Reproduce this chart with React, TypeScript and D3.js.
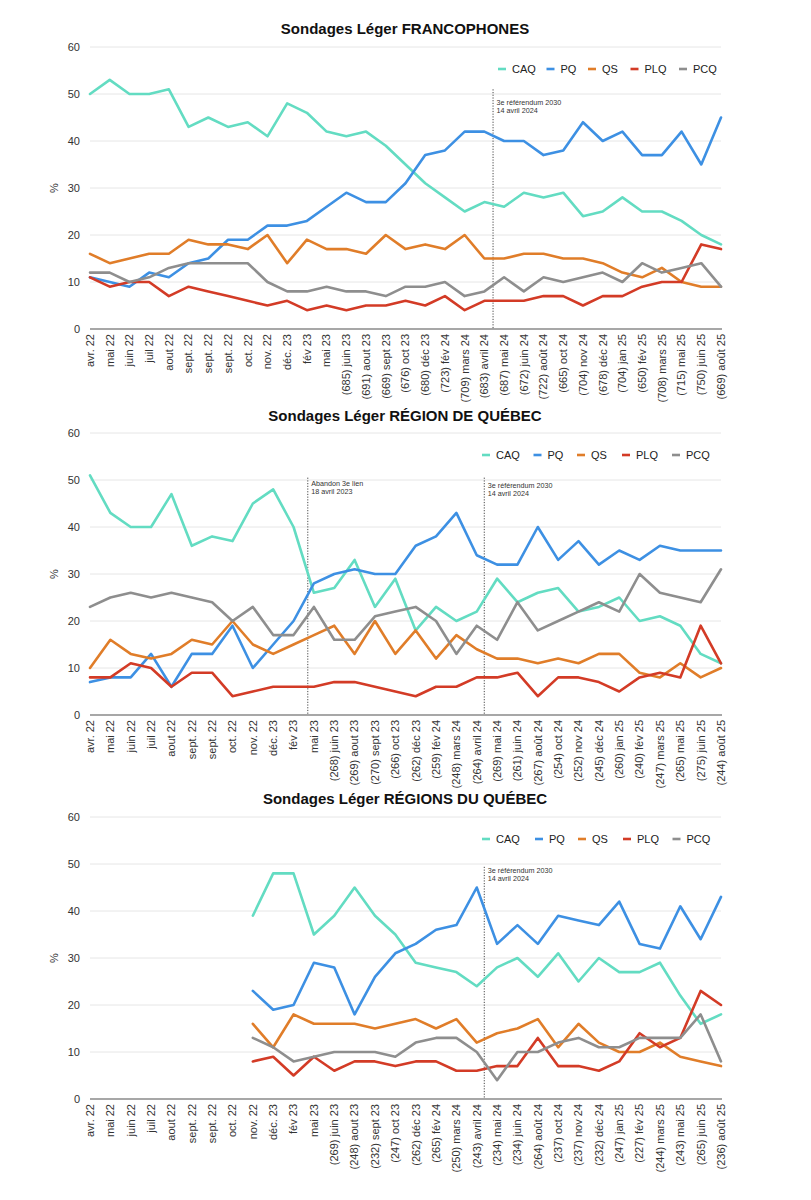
import * as d3 from 'd3';

// ---- categories (x axis) ----
const catFranco = [
  'avr. 22', 'mai 22', 'juin 22', 'juil 22', 'aout 22', 'sept. 22', 'sept. 22', 'sept. 22', 'oct. 22',
  'nov. 22', 'déc. 23', 'fév 23', 'mai 23', '(685) juin 23', '(691) aout 23', '(669) sept 23',
  '(676) oct 23', '(680) déc 23', '(723) fév 24', '(709) mars 24', '(683) avril 24', '(687) mai 24',
  '(672) juin 24', '(722) août 24', '(665) oct 24', '(704) nov 24', '(678) déc 24', '(704) jan 25',
  '(650) fév 25', '(708) mars 25', '(715) mai 25', '(750) juin 25', '(669) août 25',
];
const catQuebec = [
  'avr. 22', 'mai 22', 'juin 22', 'juil 22', 'aout 22', 'sept. 22', 'sept. 22', 'oct. 22', 'nov. 22',
  'déc. 23', 'fév 23', 'mai 23', '(268) juin 23', '(269) aout 23', '(270) sept 23', '(266) oct 23',
  '(262) déc 23', '(259) fév 24', '(248) mars 24', '(264) avril 24', '(269) mai 24', '(261) juin 24',
  '(267) août 24', '(254) oct 24', '(252) nov 24', '(245) déc 24', '(260) jan 25', '(240) fév 25',
  '(247) mars 25', '(265) mai 25', '(275) juin 25', '(244) août 25',
];
const catRegions = [
  'avr. 22', 'mai 22', 'juin 22', 'juil 22', 'aout 22', 'sept. 22', 'sept. 22', 'oct. 22', 'nov. 22',
  'déc. 23', 'fév 23', 'mai 23', '(269) juin 23', '(248) aout 23', '(232) sept 23', '(247) oct 23',
  '(262) déc 23', '(265) fév 24', '(250) mars 24', '(243) avril 24', '(234) mai 24', '(234) juin 24',
  '(264) août 24', '(237) oct 24', '(237) nov 24', '(232) déc 24', '(247) jan 25', '(227) fév 25',
  '(244) mars 25', '(243) mai 25', '(265) juin 25', '(236) août 25',
];

// ---- series: francophones ----
const caqFranco = [50, 53, 50, 50, 51, 43, 45, 43, 44, 41, 48, 46, 42, 41, 42, 39, 35, 31, 28, 25, 27, 26, 29, 28, 29, 24, 25, 28, 25, 25, 23, 20, 18];
const pqFranco = [11, 10, 9, 12, 11, 14, 15, 19, 19, 22, 22, 23, 26, 29, 27, 27, 31, 37, 38, 42, 42, 40, 40, 37, 38, 44, 40, 42, 37, 37, 42, 35, 45];
const qsFranco = [16, 14, 15, 16, 16, 19, 18, 18, 17, 20, 14, 19, 17, 17, 16, 20, 17, 18, 17, 20, 15, 15, 16, 16, 15, 15, 14, 12, 11, 13, 10, 9, 9];
const plqFranco = [11, 9, 10, 10, 7, 9, 8, 7, 6, 5, 6, 4, 5, 4, 5, 5, 6, 5, 7, 4, 6, 6, 6, 7, 7, 5, 7, 7, 9, 10, 10, 18, 17];
const pcqFranco = [12, 12, 10, 11, 13, 14, 14, 14, 14, 10, 8, 8, 9, 8, 8, 7, 9, 9, 10, 7, 8, 11, 8, 11, 10, 11, 12, 10, 14, 12, 13, 14, 9];

// ---- series: région de Québec ----
const caqQuebec = [51, 43, 40, 40, 47, 36, 38, 37, 45, 48, 40, 26, 27, 33, 23, 29, 18, 23, 20, 22, 29, 24, 26, 27, 22, 23, 25, 20, 21, 19, 13, 11];
const pqQuebec = [7, 8, 8, 13, 6, 13, 13, 19, 10, 15, 20, 28, 30, 31, 30, 30, 36, 38, 43, 34, 32, 32, 40, 33, 37, 32, 35, 33, 36, 35, 35, 35];
const qsQuebec = [10, 16, 13, 12, 13, 16, 15, 20, 15, 13, 15, 17, 19, 13, 20, 13, 18, 12, 17, 14, 12, 12, 11, 12, 11, 13, 13, 9, 8, 11, 8, 10];
const plqQuebec = [8, 8, 11, 10, 6, 9, 9, 4, 5, 6, 6, 6, 7, 7, 6, 5, 4, 6, 6, 8, 8, 9, 4, 8, 8, 7, 5, 8, 9, 8, 19, 11];
const pcqQuebec = [23, 25, 26, 25, 26, 25, 24, 20, 23, 17, 17, 23, 16, 16, 21, 22, 23, 20, 13, 19, 16, 24, 18, 20, 22, 24, 22, 30, 26, 25, 24, 31];

// ---- series: régions du Québec (no data before nov. 22) ----
const n = null;
const caqRegions = [n, n, n, n, n, n, n, n, 39, 48, 48, 35, 39, 45, 39, 35, 29, 28, 27, 24, 28, 30, 26, 31, 25, 30, 27, 27, 29, 22, 16, 18];
const pqRegions = [n, n, n, n, n, n, n, n, 23, 19, 20, 29, 28, 18, 26, 31, 33, 36, 37, 45, 33, 37, 33, 39, 38, 37, 42, 33, 32, 41, 34, 43];
const qsRegions = [n, n, n, n, n, n, n, n, 16, 11, 18, 16, 16, 16, 15, 16, 17, 15, 17, 12, 14, 15, 17, 11, 16, 12, 10, 10, 12, 9, 8, 7];
const plqRegions = [n, n, n, n, n, n, n, n, 8, 9, 5, 9, 6, 8, 8, 7, 8, 8, 6, 6, 7, 7, 13, 7, 7, 6, 8, 14, 11, 13, 23, 20];
const pcqRegions = [n, n, n, n, n, n, n, n, 13, 11, 8, 9, 10, 10, 10, 9, 12, 13, 13, 10, 4, 10, 10, 12, 13, 11, 11, 13, 13, 13, 18, 8];

const parties = ['CAQ', 'PQ', 'QS', 'PLQ', 'PCQ'];
const colors: Record<string, string> = {
  CAQ: '#63dcc2',
  PQ: '#3d90e3',
  QS: '#e07d29',
  PLQ: '#d33b26',
  PCQ: '#8e8e8e',
};
const yTicks = [0, 10, 20, 30, 40, 50, 60];

const FONT = '"Liberation Sans", Arial, Helvetica, sans-serif';

interface Note {
  at: number; // fractional category index
  top: number; // value where the dotted line starts
  lines: string[];
  textDy: number;
}

interface ChartDef {
  title: string;
  titleY: number;
  top: number;
  bottom: number;
  categories: string[];
  series: Record<string, (number | null)[]>;
  notes: Note[];
  legendX: number;
  legendGaps: number[];
}

const charts: ChartDef[] = [
  {
    title: 'Sondages Léger FRANCOPHONES',
    titleY: 34,
    top: 47,
    bottom: 329,
    categories: catFranco,
    series: { CAQ: caqFranco, PQ: pqFranco, QS: qsFranco, PLQ: plqFranco, PCQ: pcqFranco },
    notes: [{ at: 20.44, top: 51, lines: ['3e référendum 2030', '14 avril 2024'], textDy: 16 }],
    legendX: 498,
    legendGaps: [0, 48.5, 90, 132.5, 181],
  },
  {
    title: 'Sondages Léger RÉGION DE QUÉBEC',
    titleY: 421,
    top: 433,
    bottom: 715,
    categories: catQuebec,
    series: { CAQ: caqQuebec, PQ: pqQuebec, QS: qsQuebec, PLQ: plqQuebec, PCQ: pcqQuebec },
    notes: [
      { at: 10.7, top: 50.5, lines: ['Abandon 3e lien', '18 avril 2023'], textDy: 8 },
      { at: 19.37, top: 50.5, lines: ['3e référendum 2030', '14 avril 2024'], textDy: 10 },
    ],
    legendX: 482,
    legendGaps: [0, 51.5, 95, 140, 190],
  },
  {
    title: 'Sondages Léger RÉGIONS DU QUÉBEC',
    titleY: 804,
    top: 817,
    bottom: 1099,
    categories: catRegions,
    series: { CAQ: caqRegions, PQ: pqRegions, QS: qsRegions, PLQ: plqRegions, PCQ: pcqRegions },
    notes: [{ at: 19.37, top: 49.4, lines: ['3e référendum 2030', '14 avril 2024'], textDy: 6 }],
    legendX: 482,
    legendGaps: [0, 53, 96, 141, 190.5],
  },
];

const Chart = ({ def }: { def: ChartDef }) => {
  const x0 = 90;
  const x1 = 721;
  const idx = def.categories.map((_, i) => i);
  const x = d3.scalePoint<number>().domain(idx).range([x0, x1]);
  const step = x.step();
  const y = d3.scaleLinear().domain([0, 60]).range([def.bottom, def.top]);

  const line = d3
    .line<number | null>()
    .defined(d => d !== null)
    .x((_, i) => x(i) as number)
    .y(d => y(d as number))
    .curve(d3.curveLinear);

  const midY = (def.top + def.bottom) / 2;

  return (
    <g>
      <text
        x={405}
        y={def.titleY}
        textAnchor="middle"
        fontSize={15}
        fontWeight="bold"
        fill="#111"
      >
        {def.title}
      </text>

      {/* grid */}
      {yTicks.map(t => (
        <g key={t}>
          {t > 0 && (
            <line x1={x0} x2={x1} y1={y(t)} y2={y(t)} stroke="#e6e6e6" strokeWidth={1} />
          )}
          <text x={80} y={y(t)} dy="0.35em" textAnchor="end" fontSize={11} fill="#333">
            {t}
          </text>
        </g>
      ))}
      <line x1={x0} x2={x1 + 1} y1={def.bottom} y2={def.bottom} stroke="#8a8a8a" strokeWidth={1.5} />

      <text
        transform={`translate(58,${midY}) rotate(-90)`}
        textAnchor="middle"
        fontSize={11}
        fill="#333"
      >
        %
      </text>

      {/* x labels */}
      {def.categories.map((c, i) => (
        <text
          key={i}
          transform={`translate(${x(i)},${def.bottom + 5}) rotate(-90)`}
          dy="0.35em"
          textAnchor="end"
          fontSize={11}
          fill="#333"
        >
          {c}
        </text>
      ))}

      {/* annotations */}
      {def.notes.map((note, k) => {
        const nx = x0 + note.at * step;
        const ty = y(note.top);
        return (
          <g key={k}>
            <line
              x1={nx}
              x2={nx}
              y1={ty}
              y2={def.bottom}
              stroke="#333"
              strokeWidth={0.9}
              strokeDasharray="1.2,1.5"
            />
            {note.lines.map((l, j) => (
              <text key={j} x={nx + 3.5} y={ty + note.textDy + j * 8} fontSize={7.2} fill="#333">
                {l}
              </text>
            ))}
          </g>
        );
      })}

      {/* lines */}
      {parties.map(p => (
        <path
          key={p}
          d={line(def.series[p]) || ''}
          fill="none"
          stroke={colors[p]}
          strokeWidth={2.6}
          strokeLinejoin="round"
          strokeLinecap="round"
        />
      ))}

      {/* legend */}
      {parties.map((p, i) => {
        const lx = def.legendX + def.legendGaps[i];
        const ly = def.top + 22;
        return (
          <g key={p}>
            <line x1={lx} x2={lx + 8} y1={ly} y2={ly} stroke={colors[p]} strokeWidth={2.6} />
            <text x={lx + 14} y={ly} dy="0.36em" fontSize={11} fill="#222">
              {p}
            </text>
          </g>
        );
      })}
    </g>
  );
};

export default function App() {
  return (
    <svg
      width={795}
      height={1184}
      style={{ display: 'block', fontFamily: FONT, background: '#fff' }}
    >
      <g transform="translate(-8,-8)">
        {charts.map((c, i) => (
          <Chart key={i} def={c} />
        ))}
      </g>
    </svg>
  );
}
